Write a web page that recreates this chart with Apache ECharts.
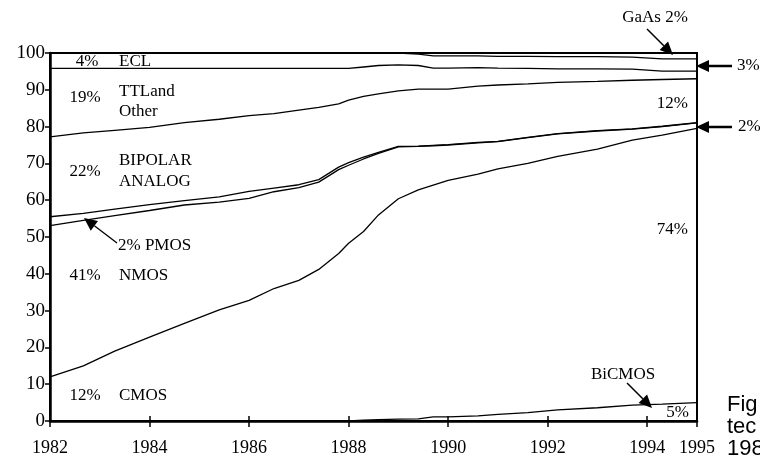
<!DOCTYPE html>
<html>
<head>
<meta charset="utf-8">
<script src="https://cdn.jsdelivr.net/npm/echarts@6/dist/echarts.min.js"></script>
<style>
  html, body { margin: 0; padding: 0; background: #fff; }
  #chart { width: 760px; height: 459px; }
</style>
</head>
<body>
<div id="chart"></div>
<script>
// boundary lines of the stacked market shares (cumulative %)
var years = [1982, 1982.67, 1983.3, 1984, 1984.7, 1985.4, 1986, 1986.5, 1987, 1987.4, 1987.8, 1988, 1988.3, 1988.6, 1989, 1989.4, 1989.7, 1990, 1990.6, 1991, 1991.6, 1992.2, 1993, 1993.7, 1994.3, 1995];
var bicmosTop = [0, 0, 0, 0, 0, 0, 0, 0, 0, 0, 0, 0, 0.2, 0.4, 0.5, 0.6, 1.1, 1.1, 1.4, 1.8, 2.3, 3.0, 3.6, 4.3, 4.6, 5.0];
var cmosTop = [12, 15, 19, 22.8, 26.5, 30.2, 32.8, 36, 38.2, 41.2, 45.5, 48.3, 51.5, 56, 60.4, 62.8, 64.1, 65.4, 67.1, 68.5, 70, 71.9, 73.9, 76.3, 77.7, 79.5];
var nmosTop = [53.1, 54.5, 55.8, 57.2, 58.7, 59.5, 60.5, 62.3, 63.4, 64.9, 68.3, 69.5, 71.2, 72.7, 74.5, 74.6, 74.8, 75, 75.6, 75.9, 77, 78, 78.8, 79.3, 80, 81];
var pmosTop = [55.5, 56.4, 57.6, 58.8, 59.9, 60.9, 62.4, 63.3, 64.2, 65.6, 69, 70.2, 71.7, 73, 74.6, 74.7, 74.9, 75.1, 75.7, 76, 77.1, 78.1, 78.9, 79.4, 80.1, 81.1];
var bipolarTop = [77.2, 78.3, 79, 79.8, 81.1, 82, 83, 83.5, 84.5, 85.2, 86.2, 87.2, 88.2, 88.9, 89.7, 90.2, 90.2, 90.2, 91, 91.3, 91.6, 92, 92.3, 92.6, 92.8, 93];
var ttlTop = [95.8, 95.8, 95.8, 95.8, 95.8, 95.8, 95.8, 95.8, 95.8, 95.8, 95.8, 95.8, 96.2, 96.6, 96.8, 96.6, 95.9, 95.9, 96, 95.9, 95.8, 95.7, 95.7, 95.6, 95.1, 95.1];
var eclTop = [100, 100, 100, 100, 100, 100, 100, 100, 100, 100, 100, 100, 100, 100, 100, 99.7, 99.2, 99.2, 99.2, 99.1, 99.1, 99, 99, 98.9, 98.4, 98.4];

var xTicks = { min: 1982, max: 1995, interval: 2 };
var yTicks = { min: 0, max: 100, interval: 10 };

var serif = '"Liberation Serif", "Times New Roman", serif';
var sans = '"Liberation Sans", Arial, sans-serif';

function pairs(arr) {
  return years.map(function (y, i) { return [y, arr[i]]; });
}

function lineSeries(name, arr) {
  return {
    name: name,
    type: 'line',
    data: pairs(arr),
    symbol: 'none',
    silent: true,
    lineStyle: { color: '#000', width: 1.3 },
    z: 3
  };
}

function txt(s, x, y, align, font) {
  return {
    type: 'text', x: x, y: y, z: 10,
    style: { text: s, font: font || ('17px ' + serif), fill: '#000', align: align || 'left', verticalAlign: 'middle' }
  };
}

function arrow(x1, y1, x2, y2, w) {
  var a = Math.atan2(y2 - y1, x2 - x1), L = 13, W = 6;
  var bx = x2 - L * Math.cos(a), by = y2 - L * Math.sin(a);
  var px = -Math.sin(a) * W, py = Math.cos(a) * W;
  return [
    { type: 'line', z: 10, shape: { x1: x1, y1: y1, x2: bx, y2: by }, style: { stroke: '#000', lineWidth: w || 1.5 } },
    { type: 'polygon', z: 10, shape: { points: [[x2, y2], [bx + px, by + py], [bx - px, by - py]] }, style: { fill: '#000' } }
  ];
}

var labels = [
  txt('4%', 87, 61.5, 'center'), txt('ECL', 119, 61.5),
  txt('19%', 85, 98, 'center'), txt('TTLand', 119, 91.7), txt('Other', 119, 112),
  txt('22%', 85, 172, 'center'), txt('BIPOLAR', 119, 161), txt('ANALOG', 119, 182),
  txt('41%', 85, 276, 'center'), txt('NMOS', 119, 276),
  txt('12%', 85, 396, 'center'), txt('CMOS', 119, 396),
  txt('12%', 688, 104, 'right'), txt('74%', 688, 229.5, 'right'), txt('5%', 689, 413, 'right'),
  txt('2% PMOS', 118, 245.5), txt('BiCMOS', 623, 375, 'center'),
  txt('GaAs 2%', 655, 18, 'center'), txt('3%', 737, 66), txt('2%', 738, 127),
  txt('Fig', 727, 405, 'left', '22px ' + sans),
  txt('tec', 727, 427, 'left', '22px ' + sans),
  txt('198', 727, 449, 'left', '22px ' + sans)
];
var arrows = [].concat(
  arrow(647, 29, 673, 55, 1.5),
  arrow(732, 66, 696, 66, 2.5),
  arrow(732, 127, 696, 127, 2.5),
  arrow(117, 243, 84, 218, 1.3),
  arrow(627, 383, 652, 408, 1.5)
);

var grid = { left: 50, right: 63, top: 53, bottom: 38 };

var option = {
  backgroundColor: '#fff',
  animation: false,
  textStyle: { fontFamily: serif, color: '#000' },
  grid: [
    Object.assign({ show: true, borderColor: '#000', borderWidth: 2 }, grid),
    Object.assign({}, grid)
  ],
  xAxis: [
    {
      type: 'value', gridIndex: 0, min: xTicks.min, max: xTicks.max, interval: xTicks.interval,
      splitLine: { show: false },
      axisLine: { lineStyle: { color: '#000', width: 2.5 } },
      axisTick: { length: 6, lineStyle: { color: '#000', width: 1.5 } },
      axisLabel: { color: '#000', fontSize: 18, fontFamily: serif, margin: 18, showMaxLabel: true, formatter: function (v) { return String(v); } }
    },
    {
      type: 'value', gridIndex: 1, min: xTicks.min, max: xTicks.max, interval: xTicks.interval,
      splitLine: { show: false },
      axisLine: { show: false },
      axisTick: { inside: true, length: 5, lineStyle: { color: '#000', width: 1.5 } },
      axisLabel: { show: false }
    }
  ],
  yAxis: [
    {
      type: 'value', gridIndex: 0, min: yTicks.min, max: yTicks.max, interval: yTicks.interval,
      splitLine: { show: false },
      axisLine: { show: true, lineStyle: { color: '#000', width: 2.5 } },
      axisTick: { show: true, length: 5, lineStyle: { color: '#000', width: 1.5 } },
      axisLabel: { color: '#000', fontSize: 19, fontFamily: serif, margin: 5 }
    },
    {
      type: 'value', gridIndex: 1, min: yTicks.min, max: yTicks.max, show: false
    }
  ],
  series: [
    lineSeries('BiCMOS', bicmosTop),
    lineSeries('CMOS', cmosTop),
    lineSeries('NMOS', nmosTop),
    lineSeries('PMOS', pmosTop),
    lineSeries('Bipolar Analog', bipolarTop),
    lineSeries('TTL and Other', ttlTop),
    lineSeries('ECL', eclTop)
  ],
  graphic: { elements: labels.concat(arrows) }
};

var chart = echarts.init(document.getElementById('chart'));
chart.setOption(option);
</script>
</body>
</html>
